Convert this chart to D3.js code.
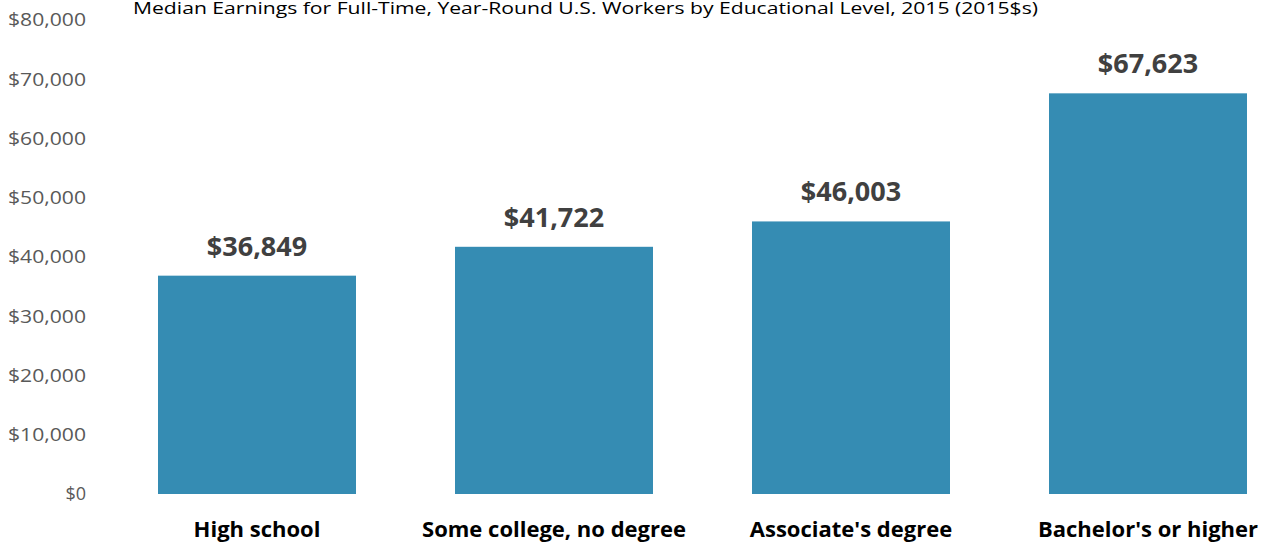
<!DOCTYPE html>
<html><head><meta charset="utf-8">
<script src="https://cdn.jsdelivr.net/npm/d3@7"></script>
<style>body{margin:0;background:#fff;overflow:hidden}svg{display:block}</style>
</head><body>
<svg id="c" width="1265" height="544"></svg>
<script>
const categories = ["High school", "Some college, no degree", "Associate's degree", "Bachelor's or higher"];
const values = [36849, 41722, 46003, 67623];
const valueLabels = ["$36,849", "$41,722", "$46,003", "$67,623"];
const yTicks = [0, 10000, 20000, 30000, 40000, 50000, 60000, 70000, 80000];
const title = "Median Earnings for Full-Time, Year-Round U.S. Workers by Educational Level, 2015 (2015$s)";

const svg = d3.select("#c");
const x = d3.scaleBand().domain(categories).range([108.5, 1296.5]).paddingInner(1/3).paddingOuter(1/6);
const y = d3.scaleLinear().domain([0, 80000]).range([494, 20]);
const font = "'Open Sans', 'Noto Sans', sans-serif";

svg.append("text").attr("x", 133).attr("y", 14).attr("font-family", font).attr("font-size", 17)
  .attr("fill", "#000").attr("textLength", 905).attr("lengthAdjust", "spacingAndGlyphs").text(title);

const yAxis = svg.append("g").attr("transform", "translate(86,0)")
  .call(d3.axisLeft(y).tickValues(yTicks).tickSize(0).tickPadding(0).tickFormat(d => "$" + d3.format(",")(d)));
yAxis.select(".domain").remove();
yAxis.selectAll("text").attr("font-family", font).attr("font-size", 18).attr("fill", "#595959")
  .attr("textLength", 78).attr("lengthAdjust", "spacingAndGlyphs");
yAxis.selectAll(".tick text").each(function(d){ if (d===0) d3.select(this).attr("textLength", null); });

svg.append("g").selectAll("rect").data(categories).join("rect")
  .attr("x", d => x(d)).attr("width", x.bandwidth())
  .attr("y", (d,i) => y(values[i])).attr("height", (d,i) => y(0) - y(values[i]))
  .attr("fill", "#358cb3");

svg.append("g").selectAll("text").data(categories).join("text")
  .attr("x", d => x(d) + x.bandwidth()/2).attr("y", (d,i) => y(values[i]) - 20)
  .attr("text-anchor", "middle").attr("font-family", font).attr("font-weight", 700)
  .attr("font-size", 27).attr("fill", "#404040").text((d,i) => valueLabels[i]);

const xAxis = svg.append("g").attr("transform", "translate(0,494)")
  .call(d3.axisBottom(x).tickSize(0).tickPadding(0));
xAxis.select(".domain").remove();
xAxis.selectAll("text").attr("dy", null).attr("y", 43).attr("font-family", font).attr("font-weight", 700)
  .attr("font-size", 22).attr("fill", "#000");
</script>
</body></html>
